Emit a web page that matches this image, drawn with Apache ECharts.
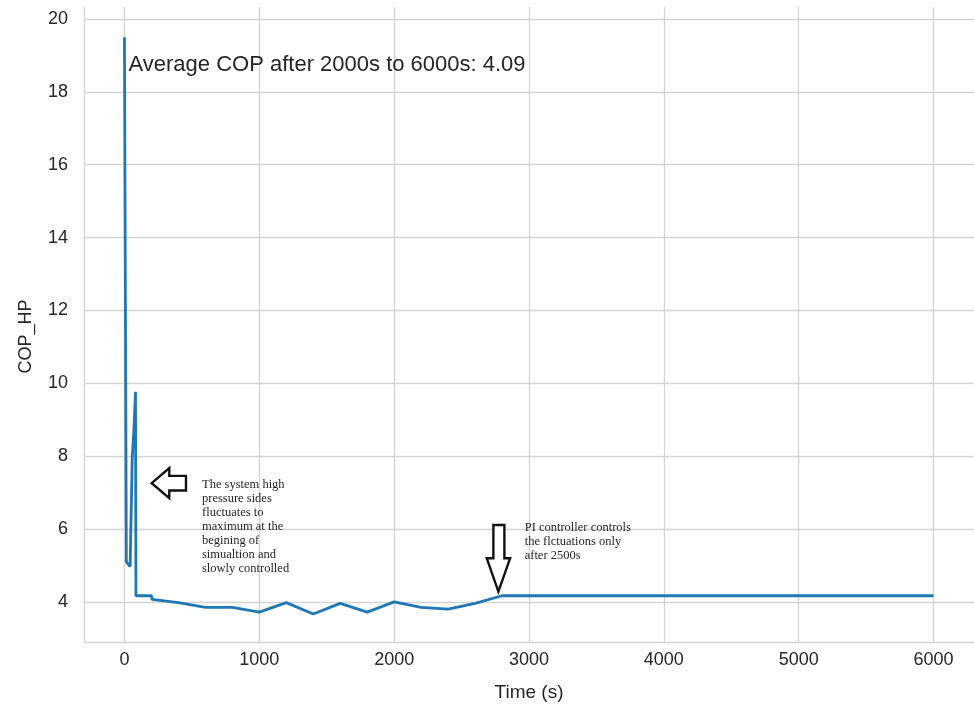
<!DOCTYPE html>
<html>
<head>
<meta charset="utf-8">
<script src="https://cdn.jsdelivr.net/npm/echarts@6/dist/echarts.min.js"></script>
<style>
  html, body { margin: 0; padding: 0; background: #ffffff; }
  #chart { width: 974px; height: 707px; }
</style>
</head>
<body>
<div id="chart"></div>
<script>
// Heat pump coefficient of performance over the simulation run
const timeSec = [0, 11, 14, 42, 54, 58, 70, 82, 85, 200, 205, 400, 600, 800, 1000, 1200, 1400, 1600, 1800, 2000, 2200, 2400, 2600, 2800, 6000];
const copHP   = [19.5, 19.5, 5.1, 4.97, 4.97, 7.99, 8.72, 9.77, 4.17, 4.17, 4.07, 3.98, 3.85, 3.85, 3.72, 3.98, 3.67, 3.96, 3.72, 4.0, 3.85, 3.80, 3.96, 4.17, 4.17];

const xTicks = [0, 1000, 2000, 3000, 4000, 5000, 6000];
const yTicks = [4, 6, 8, 10, 12, 14, 16, 18, 20];

const averageNote = 'Average COP after 2000s to 6000s: 4.09';
const startupNote = ['The system high', 'pressure sides', 'fluctuates to', 'maximum at the', 'begining of', 'simualtion and', 'slowly controlled'];
const controlNote = ['PI controller controls', 'the flctuations only', 'after 2500s'];

const series = timeSec.map((t, i) => [t, copHP[i]]);

const gridColor = '#d3d3d3';
const textColor = '#262626';

const chart = echarts.init(document.getElementById('chart'), null, { renderer: 'canvas' });

chart.setOption({
  animation: false,
  backgroundColor: '#ffffff',
  grid: { left: 84, right: -12, top: 7, bottom: 65, containLabel: false },
  xAxis: {
    type: 'value',
    min: -300,
    max: 6300,
    name: 'Time (s)',
    nameLocation: 'middle',
    nameGap: 41,
    nameTextStyle: { fontFamily: 'Liberation Sans', fontSize: 19, color: textColor },
    axisLine: { show: true, onZero: false, lineStyle: { color: gridColor, width: 1.3 } },
    axisTick: { show: false, customValues: xTicks },
    axisLabel: {
      customValues: xTicks,
      formatter: v => String(v),
      fontFamily: 'Liberation Sans', fontSize: 18, color: textColor, margin: 9
    },
    splitLine: { show: true, lineStyle: { color: gridColor, width: 1.3 } }
  },
  yAxis: {
    type: 'value',
    min: 2.9,
    max: 20.33,
    name: 'COP_HP',
    nameLocation: 'middle',
    nameGap: 49,
    nameRotate: 90,
    nameTextStyle: { fontFamily: 'Liberation Sans', fontSize: 18, color: textColor, padding: [0, 24, 0, 0] },
    axisLine: { show: true, onZero: false, lineStyle: { color: gridColor, width: 1.3 } },
    axisTick: { show: false, customValues: yTicks },
    axisLabel: {
      customValues: yTicks,
      formatter: v => String(v),
      fontFamily: 'Liberation Sans', fontSize: 18, color: textColor, margin: 16
    },
    splitLine: { show: true, lineStyle: { color: gridColor, width: 1.3 } }
  },
  series: [{
    type: 'line',
    data: series,
    showSymbol: false,
    lineStyle: { color: '#1f77b4', width: 2.8 },
    itemStyle: { color: '#1f77b4' }
  }]
});

// Annotations anchored in data space
const px = (t, v) => chart.convertToPixel({ gridIndex: 0 }, [t, v]);

function leftArrow(tip) {
  const [x, y] = tip;
  const pts = [[0, 0], [17.6, -15], [17.6, -7.3], [34.3, -7.3], [34.3, 7.4], [17.6, 7.4], [17.6, 15]];
  return {
    type: 'polygon',
    shape: { points: pts.map(p => [x + p[0], y + p[1]]) },
    style: { fill: '#ffffff', stroke: '#111111', lineWidth: 2.4, lineJoin: 'miter' },
    z: 100
  };
}

function downArrow(tip) {
  const [x, y] = tip;
  const pts = [[0, 0], [-11.6, -33.4], [-5, -33.4], [-5, -66.7], [6, -66.7], [6, -33.4], [11.7, -33.4]];
  return {
    type: 'polygon',
    shape: { points: pts.map(p => [x + p[0], y + p[1]]) },
    style: { fill: '#ffffff', stroke: '#111111', lineWidth: 2.4, lineJoin: 'miter' },
    z: 100
  };
}

function note(pos, lines, font, lineHeight, valign) {
  return {
    type: 'text',
    x: pos[0],
    y: pos[1],
    style: {
      text: lines.join('\n'),
      font: font,
      lineHeight: lineHeight,
      fill: textColor,
      align: 'left',
      verticalAlign: valign
    },
    z: 100
  };
}

chart.setOption({
  graphic: [
    note(px(30, 18.75), [averageNote], '22px "Liberation Sans"', 26, 'middle'),
    leftArrow(px(202, 7.26)),
    note(px(575, 7.42), startupNote, '12.5px "Liberation Serif"', 14, 'top'),
    downArrow(px(2773, 4.28)),
    note(px(2968, 6.22), controlNote, '12.5px "Liberation Serif"', 14, 'top')
  ]
});
</script>
</body>
</html>
